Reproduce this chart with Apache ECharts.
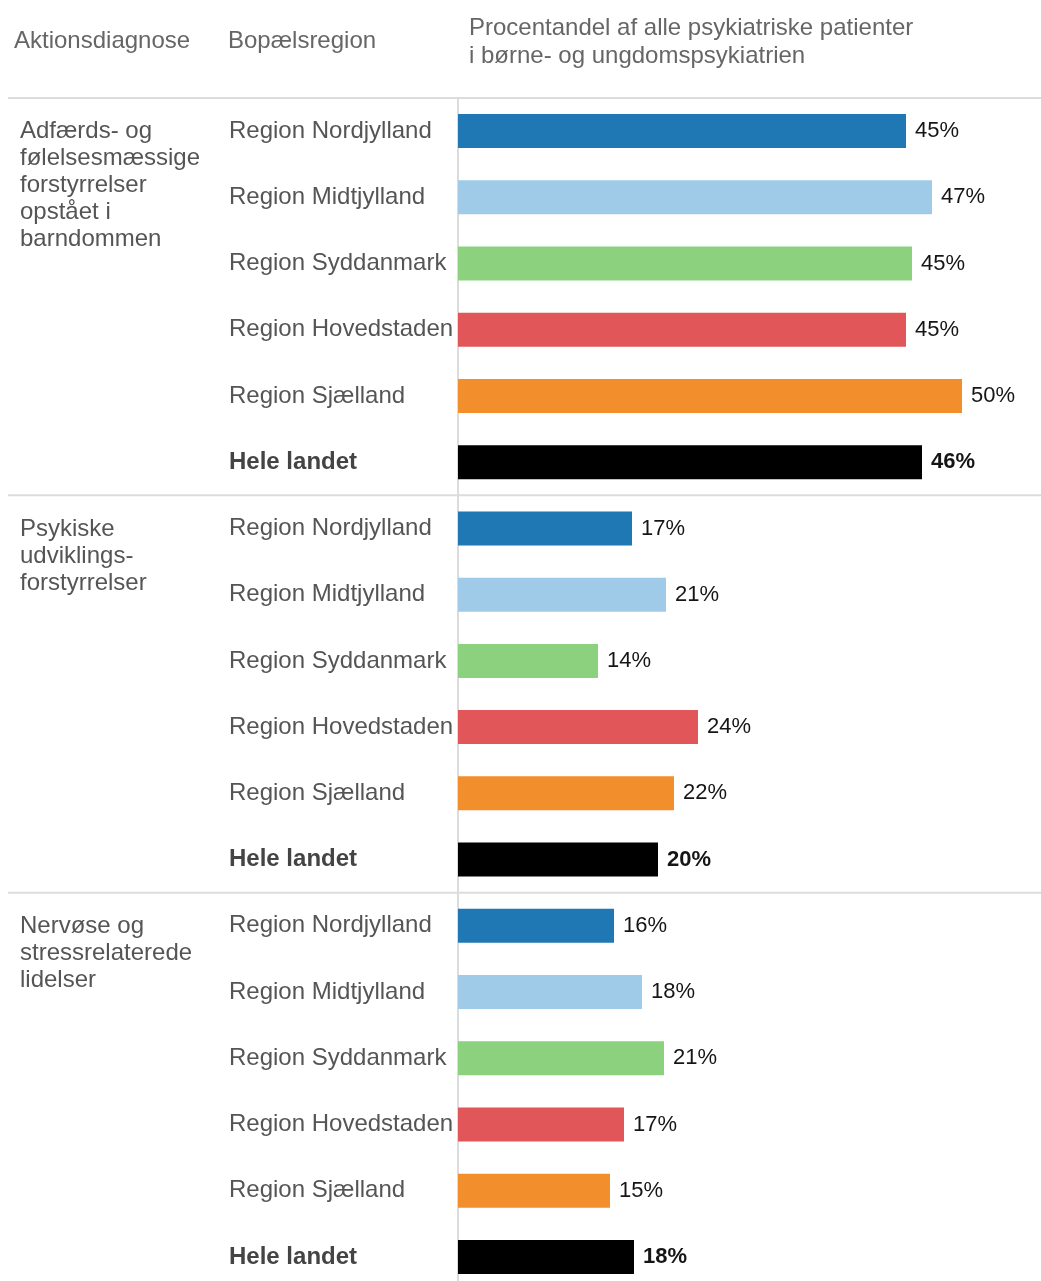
<!DOCTYPE html>
<html>
<head>
<meta charset="utf-8">
<script src="https://cdn.jsdelivr.net/npm/echarts@6/dist/echarts.min.js"></script>
<style>
  html, body { margin: 0; padding: 0; background: #fff; overflow: hidden; }
  #main { width: 1041px; height: 1281px; }
</style>
</head>
<body>
<div id="main"></div>
<script>
// diagnosegrupper (venstre kolonne)
const groups = [
  'Adfærds- og\nfølelsesmæssige\nforstyrrelser\nopstået i\nbarndommen',
  'Psykiske\nudviklings-\nforstyrrelser',
  'Nervøse og\nstressrelaterede\nlidelser'
]
const regions = ['Region Nordjylland', 'Region Midtjylland', 'Region Syddanmark', 'Region Hovedstaden', 'Region Sjælland', 'Hele landet']
const regionColors = ['#1f77b4', '#a0cbe8', '#8cd17d', '#e15759', '#f28e2b', '#000000']

// procent af alle patienter
const adfaerd = [44.8, 47.4, 45.4, 44.8, 50.4, 46.4]
const udvikling = [17.4, 20.8, 14.0, 24.0, 21.6, 20.0]
const nervoese = [15.6, 18.4, 20.6, 16.6, 15.2, 17.6]
const groupValues = [adfaerd, udvikling, nervoese]

const FONT = '"Liberation Sans", Arial, sans-serif'

let cats = []
let barData = []
groupValues.forEach((vals, g) => {
  vals.forEach((v, r) => {
    cats.push(g + '-' + r)
    const national = r === regions.length - 1
    barData.push({
      value: v,
      itemStyle: {color: regionColors[r]},
      label: {fontWeight: national ? 'bold' : 'normal'}
    })
  })
})

let myChart = echarts.init(document.getElementById('main'))
let option = {
  animation: false,
  backgroundColor: '#fff',
  grid: {left: 458, top: 98, width: 580, height: 1192, outerBoundsMode: 'none'},
  xAxis: {
    type: 'value',
    min: 0,
    max: 58,
    show: false
  },
  yAxis: {
    type: 'category',
    data: cats,
    inverse: true,
    axisLine: {show: true, lineStyle: {color: '#dcdcdc', width: 2}},
    axisTick: {show: false},
    splitLine: {show: false},
    axisLabel: {
      align: 'left',
      margin: 229,
      fontFamily: FONT,
      fontSize: 24,
      color: '#555',
      formatter: function (val) {
        const r = Number(val.split('-')[1])
        return r === regions.length - 1 ? '{b|' + regions[r] + '}' : regions[r]
      },
      rich: {
        b: {fontFamily: FONT, fontSize: 24, fontWeight: 'bold', color: '#444'}
      }
    }
  },
  series: [
    {
      type: 'bar',
      data: barData,
      barWidth: 34,
      label: {
        show: true,
        position: 'right',
        distance: 9,
        fontFamily: FONT,
        fontSize: 22,
        color: '#151515',
        formatter: p => Math.round(p.value) + '%'
      }
    }
  ]
}
myChart.setOption(option)

// overskrifter, gruppetekster og skillelinjer
const band = 1192 / cats.length
let elements = [
  {type: 'text', left: 14, top: 29, style: {text: 'Aktionsdiagnose', font: '24px ' + FONT, fill: '#666'}},
  {type: 'text', left: 228, top: 29, style: {text: 'Bopælsregion', font: '24px ' + FONT, fill: '#666'}},
  {type: 'text', left: 469, top: 14, style: {text: 'Procentandel af alle psykiatriske patienter\ni børne- og ungdomspsykiatrien', font: '24px ' + FONT, fill: '#666', lineHeight: 28}}
]
groups.forEach((name, g) => {
  const yc = myChart.convertToPixel({yAxisIndex: 0}, g + '-0')
  const top = yc - band / 2
  elements.push({
    type: 'line',
    shape: {x1: 8, y1: top, x2: 1041, y2: top},
    style: {stroke: '#dcdcdc', lineWidth: 2}
  })
  elements.push({
    type: 'text',
    x: 20,
    y: yc - 13,
    style: {text: name, font: '24px ' + FONT, fill: '#555', lineHeight: 27, verticalAlign: 'top'}
  })
})
myChart.setOption({graphic: elements})
</script>
</body>
</html>
